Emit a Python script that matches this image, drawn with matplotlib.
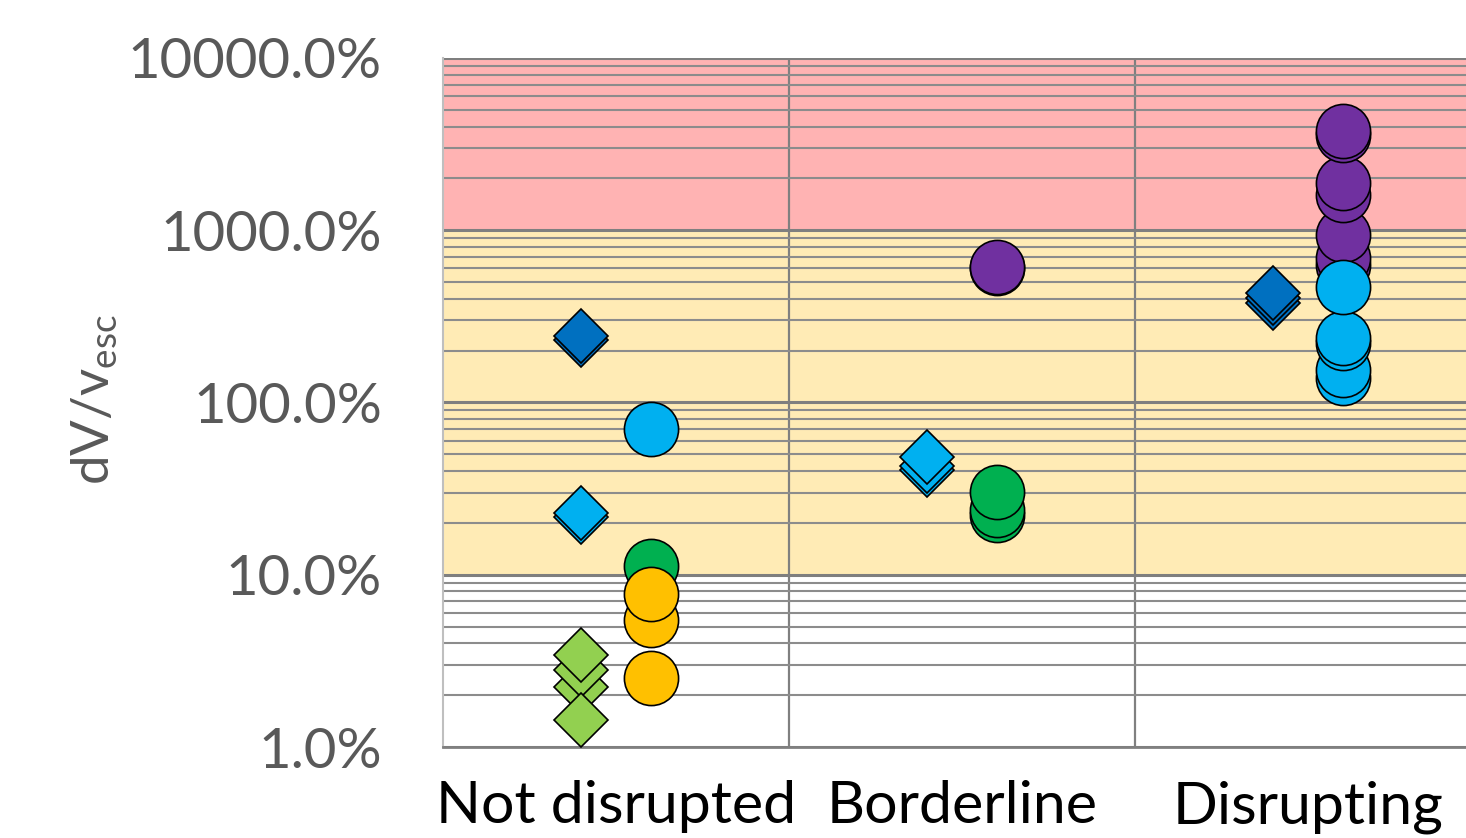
import matplotlib
matplotlib.use("Agg")
import matplotlib.pyplot as plt
from matplotlib.ticker import FixedLocator, FuncFormatter, LogLocator, NullFormatter

plt.rcParams["font.family"] = ["Lato", "DejaVu Sans"]
plt.rcParams["mathtext.default"] = "regular"

categories = ["Not disrupted", "Borderline", "Disrupting"]

# Each series: category index of every point and its dV/v_esc value in percent
dark_blue_diamond_cat = [0, 0, 2, 2, 2]
dark_blue_diamond_val = [230, 243, 377, 404, 431]

light_blue_diamond_cat = [0, 0, 1, 1, 1]
light_blue_diamond_val = [21.6, 22.8, 40.5, 43, 48]

light_green_diamond_cat = [0, 0, 0, 0]
light_green_diamond_val = [2.23, 2.80, 3.42, 1.43]

purple_circle_cat = [1, 1, 2, 2, 2, 2, 2, 2, 2]
purple_circle_val = [600, 615, 627, 689, 937, 1599, 1877, 3565, 3760]

light_blue_circle_cat = [0, 2, 2, 2, 2, 2]
light_blue_circle_val = [70, 139, 154, 221, 236, 467]

green_circle_cat = [0, 1, 1, 1]
green_circle_val = [11.2, 22.2, 23.7, 30.2]

yellow_circle_cat = [0, 0, 0]
yellow_circle_val = [2.51, 5.46, 7.7]

series = [
    (dark_blue_diamond_cat, dark_blue_diamond_val, "D", "#0070C0"),
    (light_blue_diamond_cat, light_blue_diamond_val, "D", "#00B0F0"),
    (light_green_diamond_cat, light_green_diamond_val, "D", "#92D050"),
    (green_circle_cat, green_circle_val, "o", "#00B050"),
    (yellow_circle_cat, yellow_circle_val, "o", "#FFC000"),
    (purple_circle_cat, purple_circle_val, "o", "#7030A0"),
    (light_blue_circle_cat, light_blue_circle_val, "o", "#00B0F0"),
]

fig = plt.figure(figsize=(14.66, 8.38), dpi=100)
ax = fig.add_axes([443 / 1466, 91 / 838, 1038 / 1466, 689 / 838])

ax.set_yscale("log")
ax.set_ylim(1, 10000)
ax.set_xlim(-0.5, 2.5)

# Severity bands
ax.axhspan(1, 10, color="white", zorder=0)
ax.axhspan(10, 1000, color="#FFEBB5", zorder=0)
ax.axhspan(1000, 10000, color="#FFB3B3", zorder=0)

ax.yaxis.set_major_locator(FixedLocator([1, 10, 100, 1000, 10000]))
ax.yaxis.set_minor_locator(LogLocator(base=10, subs=range(2, 10)))
ax.yaxis.set_major_formatter(FuncFormatter(lambda v, _: f"{v:.1f}%"))
ax.yaxis.set_minor_formatter(NullFormatter())
ax.grid(which="major", axis="y", color="#7F7F7F", linewidth=2.2, zorder=1)
ax.grid(which="minor", axis="y", color="#8C8C8C", linewidth=1.5, zorder=1)

for b in [0.5, 1.5]:
    ax.axvline(b, color="#808080", linewidth=1.6, zorder=1)

ax.set_xticks(range(len(categories)))
ax.set_xticklabels(categories)
ax.tick_params(axis="x", length=0, pad=24, labelsize=42.5, labelcolor="black")
ax.tick_params(axis="y", which="both", length=0, pad=44, labelsize=40.5, labelcolor="#595959")

for side in ["top", "right"]:
    ax.spines[side].set_visible(False)
ax.spines["left"].set_color("#BFBFBF")
ax.spines["left"].set_linewidth(1.5)
ax.spines["bottom"].set_color("#808080")
ax.spines["bottom"].set_linewidth(2)

offsets = {"D": -0.1, "o": 0.1}
sizes = {"D": 27.5, "o": 39}
for z, (cats, vals, marker, color) in enumerate(series):
    xs = [c + offsets[marker] for c in cats]
    ax.plot(xs, vals, linestyle="none", marker=marker, markersize=sizes[marker],
            markerfacecolor=color, markeredgecolor="black", markeredgewidth=1.2,
            zorder=3 + z, clip_on=False)

fig.text(95 / 1466, 1 - 400 / 838, r"dV/v$_{esc}$", rotation=90, ha="center", va="center",
         fontsize=38, color="#595959")

fig.savefig("out.png", dpi=100)
